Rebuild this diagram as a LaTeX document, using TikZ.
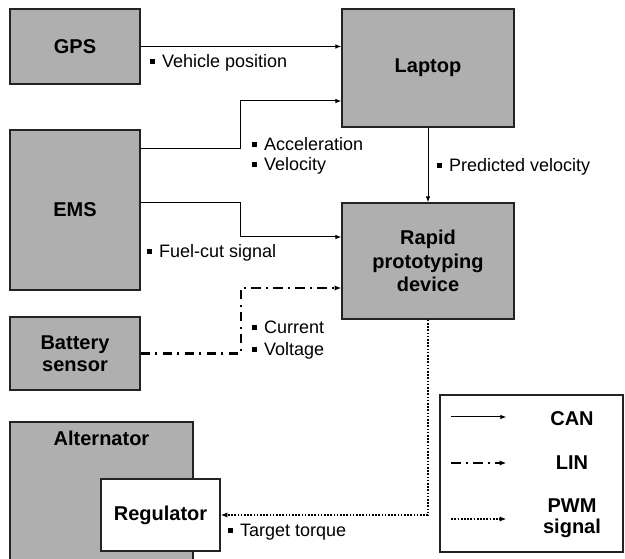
\documentclass[tikz,border=0pt]{standalone}
\usepackage{fontspec}
\setmainfont{Liberation Sans}
\usetikzlibrary{arrows.meta}
\definecolor{boxColor}{RGB}{175,175,175}
\definecolor{lineColor}{RGB}{35,35,35}
\newcommand{\sq}{\rule[0.2em]{0.26em}{0.26em}\hspace{0.4em}}

\begin{document}
\begin{tikzpicture}[x=0.75pt,y=-0.75pt]

          \tikzstyle{boxNode} = [draw=lineColor, line width=1.1pt, fill=boxColor, align=center, inner sep=0pt, font=\fontsize{15}{17.5}\selectfont\bfseries];
          \tikzstyle{whiteNode} = [boxNode, fill=white];
          \tikzstyle{legendNode} = [align=center, inner sep=0pt, font=\fontsize{15}{16}\selectfont\bfseries];
          \tikzstyle{signalNode} = [anchor=west, align=left, inner sep=0pt, font=\fontsize{13.5}{15}\selectfont];

          \tikzstyle{canEdge} = [line width=0.75pt, -{Latex[length=4.5pt,width=3.5pt]}];
          \tikzstyle{linEdge} = [line width=1.6pt, dash pattern=on 7pt off 4pt on 1.5pt off 4pt, -{Latex[length=5pt,width=4pt]}];
          \tikzstyle{pwmEdge} = [line width=1.7pt, dash pattern=on 1.3pt off 1.1pt, -{Latex[length=5pt,width=4pt]}];

          \useasboundingbox (0,0) rectangle (625,559);
          \clip (0,0) rectangle (625,559);

          % units
          \node[boxNode, minimum width=97.5pt, minimum height=56.25pt] (gps) at (75,46.5) {GPS};
          \node[boxNode, minimum width=129pt, minimum height=88.5pt] (laptop) at (428,68) {Laptop};
          \node[boxNode, minimum width=97.5pt, minimum height=120pt] (ems) at (75,210) {EMS};
          \node[boxNode, minimum width=129pt, minimum height=87pt] (rapid) at (428,261) {Rapid\\prototyping\\device};
          \node[boxNode, minimum width=97.5pt, minimum height=54.75pt, font=\fontsize{15}{16.5}\selectfont\bfseries] (battery) at (75,353.5) {Battery\\sensor};
          \node[boxNode, minimum width=137.25pt, minimum height=114.75pt,
                label={[legendNode, anchor=north, yshift=-7pt]north:Alternator}] (alternator) at (101.5,498.5) {};
          \node[whiteNode, minimum width=89.25pt, minimum height=54pt] (regulator) at (160.5,515) {Regulator};

          % buses
          \draw[canEdge] (gps.east) -- (gps.east -| laptop.west);
          \draw[canEdge] ([yshift=45.75pt]ems.east) -- ++(100,0) |- ([yshift=-24.75pt]laptop.west);
          \draw[canEdge] ([yshift=5.25pt]ems.east) -- ++(100,0) |- ([yshift=18pt]rapid.west);
          \draw[canEdge] (laptop) -- (rapid);
          \draw[linEdge] (battery.east) -- ++(100,0) |- ([yshift=-20.25pt]rapid.west);
          \draw[pwmEdge] (rapid.south) |- (regulator.east);

          % signals
          \node[signalNode] (posLbl) at (150,63) {\sq Vehicle position};
          \node[signalNode] (accLbl) at (252,156) {\sq Acceleration\\\sq Velocity};
          \node[signalNode] (predLbl) at (437,167) {\sq Predicted velocity};
          \node[signalNode] (fuelLbl) at (147,253) {\sq Fuel-cut signal};
          \node[signalNode, font=\fontsize{13.5}{16.5}\selectfont] (batLbl) at (252,340) {\sq Current\\\sq Voltage};
          \node[signalNode] (torqueLbl) at (228,532) {\sq Target torque};

          % legend
          \node[draw=lineColor, line width=1.1pt, minimum width=137.25pt, minimum height=117.75pt] (legend) at (531.5,473.5) {};
          \node[legendNode] (can) at (572,419) {CAN};
          \node[legendNode] (lin) at (572,463) {LIN};
          \node[legendNode] (pwm) at (572,518) {PWM\\signal};
          \draw[canEdge] (legend.west |- can) ++(12,-2) -- ++(55,0);
          \draw[linEdge] (legend.west |- lin) ++(12,0) -- ++(55,0);
          \draw[pwmEdge] (legend.west |- pwm) ++(12,1) -- ++(55,0);
        \end{tikzpicture}
\end{document}
